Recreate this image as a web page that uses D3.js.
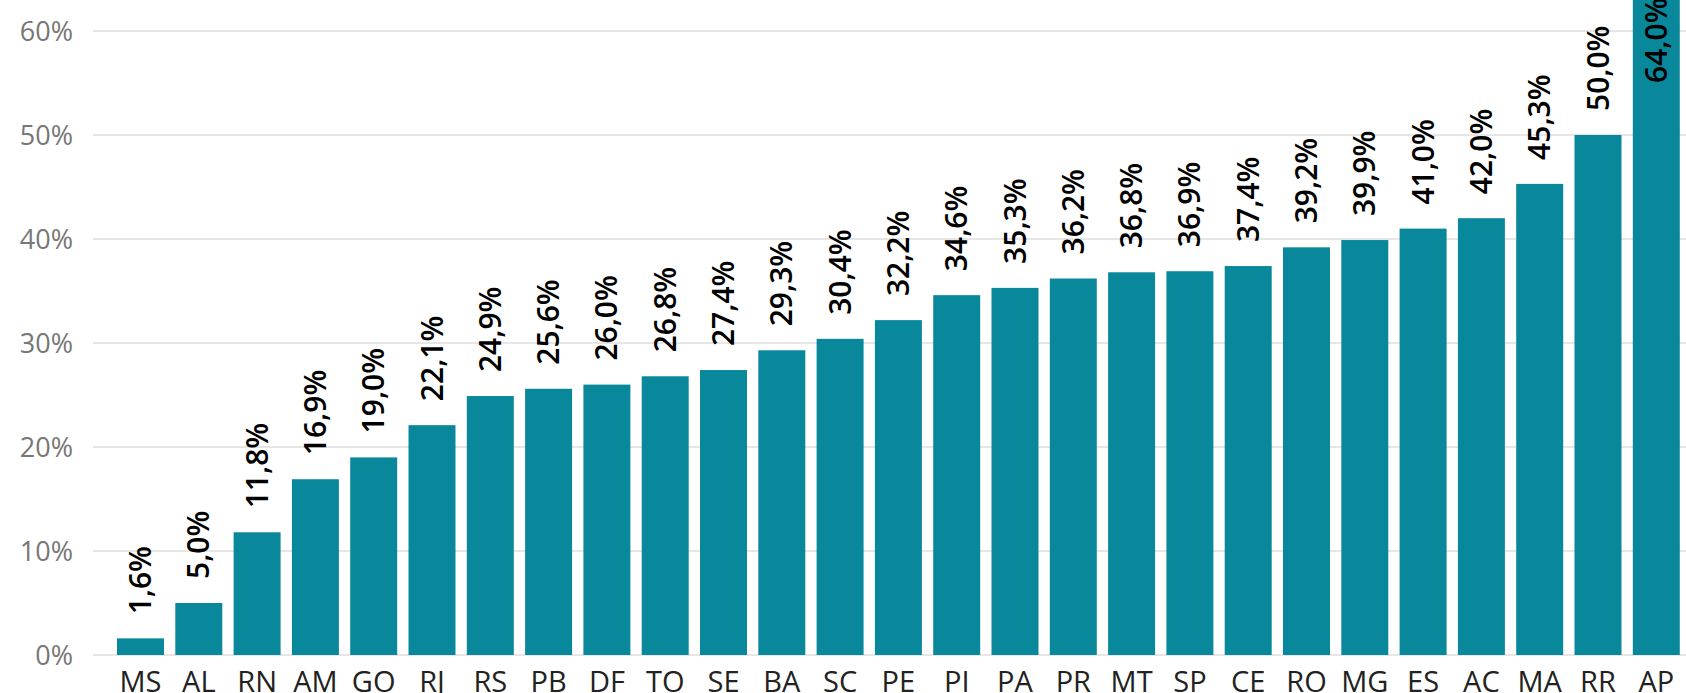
<!DOCTYPE html>
<html><head><meta charset="utf-8">
<script src="https://cdn.jsdelivr.net/npm/d3@7"></script>
<style>html,body{margin:0;padding:0;background:#fff;overflow:hidden}</style>
</head><body>
<svg id="c" width="1686" height="693"></svg>
<script>
const categories = ["MS","AL","RN","AM","GO","RJ","RS","PB","DF","TO","SE","BA","SC","PE","PI","PA","PR","MT","SP","CE","RO","MG","ES","AC","MA","RR","AP"];
const values = [1.6,5.0,11.8,16.9,19.0,22.1,24.9,25.6,26.0,26.8,27.4,29.3,30.4,32.2,34.6,35.3,36.2,36.8,36.9,37.4,39.2,39.9,41.0,42.0,45.3,50.0,64.0];
const yTicks = [0,10,20,30,40,50,60];

const W = 1686, H = 693;
const svg = d3.select("#c");
const font = "'Open Sans', 'Noto Sans', sans-serif";
const y = d3.scaleLinear().domain([0,60]).range([655,31]);
const x = d3.scaleBand().domain(categories).range([111.35,1685.45]).paddingInner(0.194).paddingOuter(0.097);

// gridlines + y labels
svg.append("g").selectAll("line").data(yTicks).enter().append("line")
  .attr("x1",93).attr("x2",W).attr("y1",d=>y(d)).attr("y2",d=>y(d))
  .attr("stroke","#e6e6e6").attr("stroke-width",2);
const yAxis = d3.axisLeft(y).tickValues(yTicks).tickSize(0).tickPadding(0).tickFormat(d => d + "%");
const yg = svg.append("g").attr("transform","translate(73,0)").call(yAxis);
yg.select(".domain").remove();
yg.selectAll("text").attr("font-family",font).attr("font-size",27).attr("fill","#777").attr("dy","0.35em");

// bars
svg.append("g").selectAll("rect").data(values).enter().append("rect")
  .attr("x",(d,i)=>x(categories[i])).attr("width",x.bandwidth())
  .attr("y",d=>y(d)).attr("height",d=>y(0)-y(d)).attr("fill","#0A889B");

// value labels
const fmt = v => v.toFixed(1).replace(".",",") + "%";
const inside = d => y(d) < 110;
svg.append("g").selectAll("text").data(values).enter().append("text")
  .attr("transform",(d,i)=>{
    const cx = x(categories[i]) + x.bandwidth()/2;
    const yy = inside(d) ? y(d) + 8 : y(d) - 24;
    return `translate(${cx},${yy}) rotate(-90)`;
  })
  .attr("text-anchor",d=> inside(d) ? "end" : "start")
  .attr("dy","0.35em")
  .attr("font-family",font).attr("font-size",30).attr("font-weight",600)
  .attr("fill","#000").text(fmt);

// x axis labels
const xAxis = d3.axisBottom(x).tickSize(0).tickPadding(0);
const xg = svg.append("g").attr("transform","translate(0,692)").call(xAxis);
xg.select(".domain").remove();
xg.selectAll("text").attr("font-family",font).attr("font-size",29).attr("fill","#222").attr("dy","0");
</script>
</body></html>
